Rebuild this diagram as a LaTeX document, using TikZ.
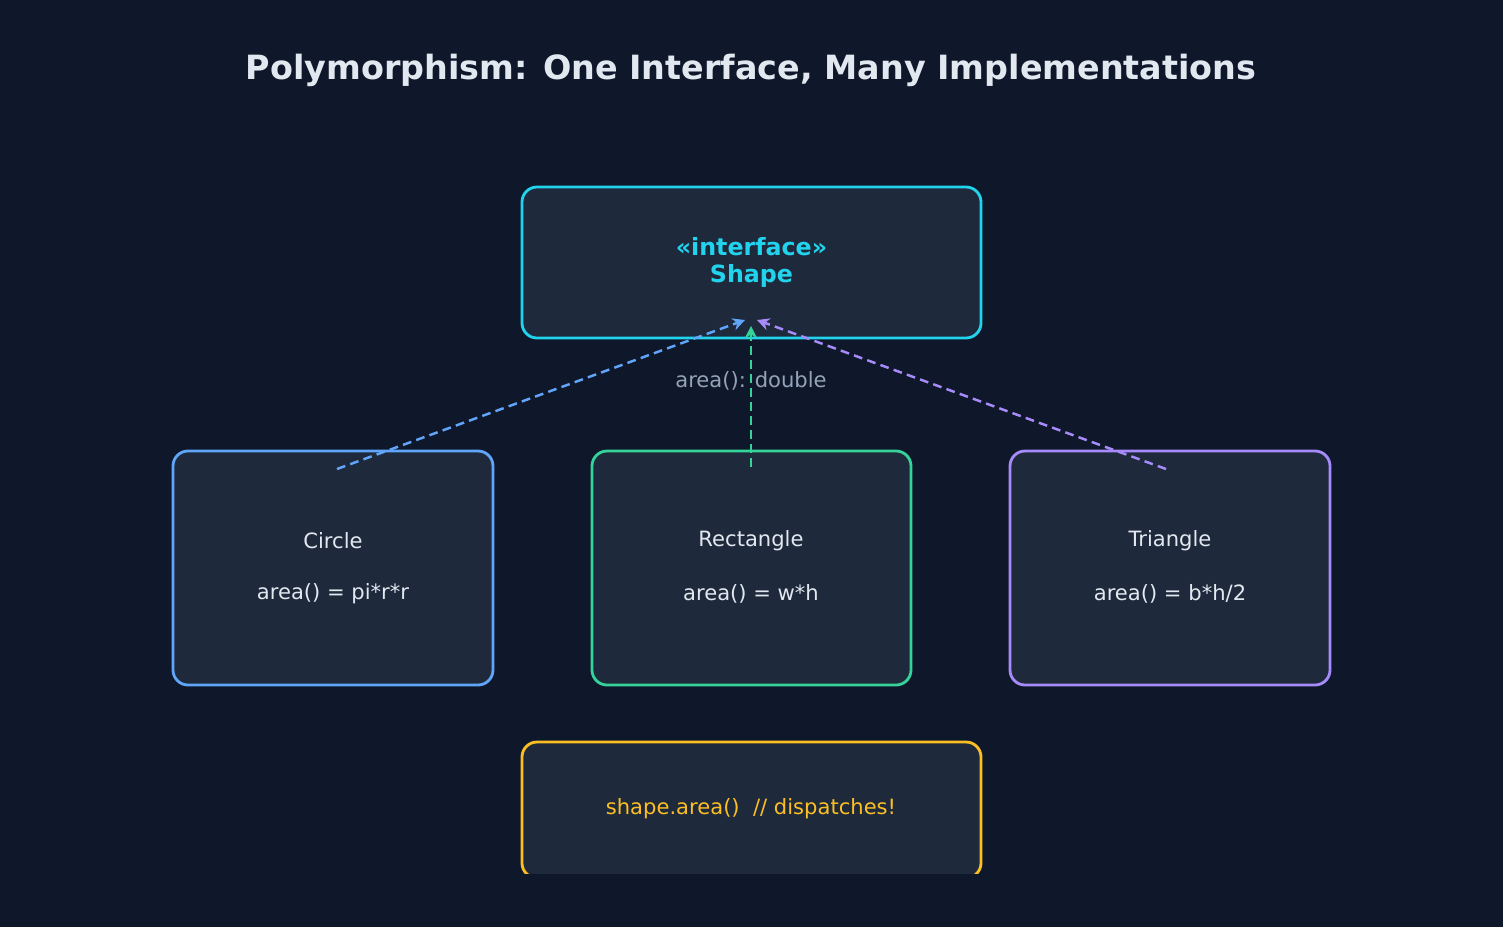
\documentclass[tikz,border=0pt]{standalone}
\usepackage{fontspec}
\setmainfont{DejaVu Sans}
\usetikzlibrary{arrows.meta}
\definecolor{bgdark}{HTML}{0F172A}
\definecolor{boxfill}{HTML}{1E293B}
\definecolor{ifcyan}{HTML}{22D3EE}
\definecolor{cblue}{HTML}{60A5FA}
\definecolor{rgreen}{HTML}{34D399}
\definecolor{tpurple}{HTML}{A78BFA}
\definecolor{cyellow}{HTML}{FBBF24}
\definecolor{txtlight}{HTML}{E2E8F0}
\definecolor{txtgray}{HTML}{94A3B8}
\newcommand{\pbox}[6]{\draw[#6,fill=boxfill,line width=1.6pt,rounded corners=0.3cm] (#1,#2) rectangle (#3,#4) node[midway,name=#5] {};}
\tikzset{
  impl/.style={dashed,dash pattern=on 5pt off 3pt,line width=1.4pt,-{Stealth[length=7pt,width=7pt]}},
  lbl/.style={text=txtlight,font=\fontsize{12}{14}\selectfont,align=center}
}
\begin{document}
\begin{tikzpicture}[x=0.02cm,y=-0.02cm]

    \fill[bgdark] (0,0) rectangle (1503,927);
    \useasboundingbox (0,0) rectangle (1503,927);

    \node (title) at (751,70) {\fontsize{19}{22}\selectfont\bfseries\color{txtlight}Polymorphism: One Interface, Many Implementations};

    \pbox{522}{187}{981}{338}{shape}{ifcyan}
    \node[align=center,text=ifcyan,font=\fontsize{13.5}{15}\selectfont\bfseries] at (shape) {<<interface>>\\Shape};

    \pbox{173}{451}{493}{685}{circle}{cblue}
    \pbox{592}{451}{911}{685}{rect}{rgreen}
    \pbox{1010}{451}{1330}{685}{tri}{tpurple}
    \node[lbl] at (333,541) {Circle};
    \node[lbl] at (333,594) {area() = pi*r*r};
    \node[lbl] at (751,541) {Rectangle};
    \node[lbl] at (751,594) {area() = w*h};
    \node[lbl] at (1170,541) {Triangle};
    \node[lbl] at (1170,594) {area() = b*h/2};

    \node[text=txtgray,font=\fontsize{12}{14}\selectfont] (sig) at (751,381) {area(): double};

    \begin{scope}
      \clip (0,0) rectangle (1503,873);
      \pbox{522}{742}{981}{878}{call}{cyellow}
    \end{scope}
    \node[text=cyellow,font=\fontsize{12}{14}\selectfont] at (751,809) {shape.area()\ \ // dispatches!};

    % arrow ends
    \coordinate (cs) at (337,469);
    \coordinate (ce) at (745,320);
    \coordinate (rs) at (751,467);
    \coordinate (re) at (751,326);
    \coordinate (ts) at (1166,469);
    \coordinate (te) at (757,320);
    \draw[impl,cblue] (cs) -- (ce);
    \draw[impl,rgreen] (rs) -- (re);
    \draw[impl,tpurple] (ts) -- (te);
\end{tikzpicture}
\end{document}
